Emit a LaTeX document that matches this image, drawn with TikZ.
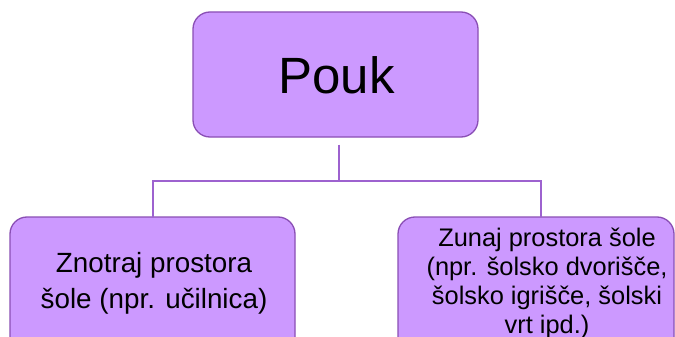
\documentclass[tikz,border=0pt]{standalone}
\usepackage{fontspec}
\setmainfont{Liberation Sans}
\definecolor{boxfill}{HTML}{CC99FF}
\definecolor{boxline}{HTML}{8A4FB5}
\definecolor{connline}{HTML}{9D62CF}
\tikzset{
  topic/.style={draw=boxline, line width=1.3pt, fill=boxfill, rounded corners=17pt},
  conn/.style={draw=connline, line width=1.8pt},
  label/.style={inner sep=0pt, align=center, text=black}
}
\begin{document}
\begin{tikzpicture}[x=1pt, y=-1pt]
  \useasboundingbox (0,0) rectangle (675,337);
  \fill[white] (0,0) rectangle (675,337);

  % boxes
  \begin{scope}
    \clip (0,0) rectangle (675,337);
    \draw[topic] (193,12) rectangle (478,137);
    \draw[topic] (10,217) rectangle (295,360);
    \draw[topic] (398,217) rectangle (674,360);
  \end{scope}
  \coordinate (pouks) at (339,144.5);
  \coordinate (leftn) at (153,217);
  \coordinate (rightn) at (541,217);
  \coordinate (jl) at (153,181);
  \coordinate (jr) at (541,181);

  % labels (anchored at the baseline of the last line)
  \node[label, anchor=base, font=\fontsize{51}{56}\selectfont] (tpouk) at (336.5,93) {Pouk};
  \node[label, anchor=base, font=\fontsize{27.8}{36}\selectfont] (tleft) at (154,308)
    {Znotraj prostora\\šole (npr. učilnica)};
  \node[label, anchor=base, font=\fontsize{25.4}{29}\selectfont] (tright) at (547,333)
    {Zunaj prostora šole\\(npr. šolsko dvorišče,\\šolsko igrišče, šolski\\vrt ipd.)};

  % connectors
  \draw[conn] (pouks) -- (pouks |- jl);
  \draw[conn] (leftn) -- (jl) -- (jr) -- (rightn);
\end{tikzpicture}
\end{document}
